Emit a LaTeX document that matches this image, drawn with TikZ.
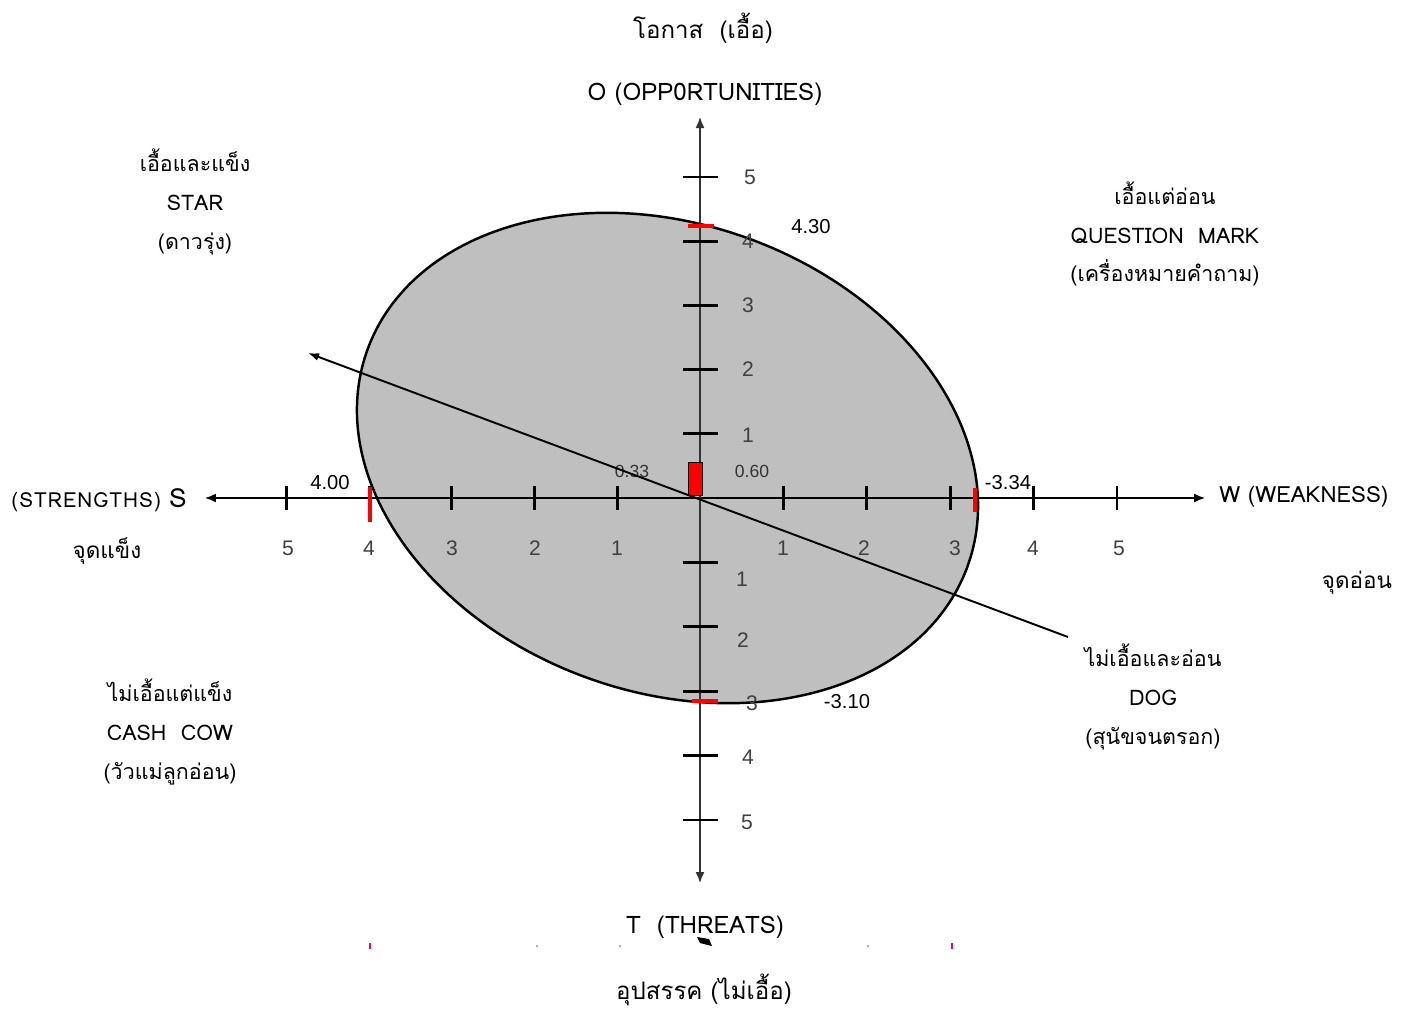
\documentclass[tikz,border=0pt]{standalone}
\usepackage{fontspec}
\setmainfont{Liberation Sans}
\newfontfamily\thaifont[Script=Thai]{Loma}
\usetikzlibrary{arrows.meta}

\begin{document}
\begin{tikzpicture}[x=0.02cm, y=-0.02cm,
    thailabel/.style={font=\thaifont\fontsize{12.2}{22}\selectfont, align=center, inner sep=0pt},
    axisname/.style={font=\thaifont\fontsize{13.7}{16}\selectfont, inner sep=0pt},
    ticklabel/.style={font=\fontsize{12}{14}\selectfont, text=black!75, inner sep=0pt},
    valuelabel/.style={font=\fontsize{11.5}{14}\selectfont, inner sep=0pt},
    tickmark/.style={line width=1.6pt},
    redmark/.style={red, line width=2.6pt},
    axisline/.style={{Latex[length=2.2mm,width=1.8mm]}-{Latex[length=2.2mm,width=1.8mm]}, line width=0.8pt}]

    \useasboundingbox (0,0) rectangle (1401,1011);

    % ellipse of the position
    \draw[fill=black!25, line width=1.4pt, rotate around={-19.7:(667.5,458)}]
        (667.5,458) ellipse [x radius=319, y radius=234];

    % axes
    \coordinate (origin) at (700,498);
    \coordinate (west) at (205,498);
    \coordinate (east) at (1205,498);
    \coordinate (north) at (700,117);
    \coordinate (south) at (700,883);
    \draw[axisline] (west) -- (east);
    \draw[axisline, black!80] (south) -- (north);

    % ticks on the horizontal axis
    \foreach \k in {1,...,5} {
        \draw[tickmark] ({700-82.7*\k},486) -- ++(0,24);
        \draw[tickmark] ({700+83.4*\k},486) -- ++(0,24);
    }
    % ticks on the vertical axis
    \foreach \k in {1,...,5} {
        \draw[tickmark] (683,{498-64.2*\k}) -- ++(35,0);
        \draw[tickmark] (683,{498+64.4*\k}) -- ++(35,0);
    }

    % tick labels
    \foreach \k/\lx in {5/288,4/369,3/452,2/535,1/617,1/783,2/864,3/955,4/1033,5/1119} {
        \node[ticklabel] at (\lx,548) {\k};
    }
    \foreach \k/\lx/\ly in {5/750/177,4/748/241,3/748/305,2/748/369,1/748/435,
                            1/742/579,2/743/640,3/752/703,4/748/757,5/747/822} {
        \node[ticklabel] at (\lx,\ly) {\k};
    }

    % red marks
    \draw[redmark] (370,487) -- (370,522);
    \draw[redmark] (975,488) -- (975,512);
    \draw[redmark] (688,226) -- (714,226);
    \draw[redmark] (692,701) -- (718,701);
    \draw[fill=red, line width=0.5pt] (688,462) rectangle (702,495);

    % values
    \node[valuelabel] (vs) at (330,483) {4.00};
    \node[valuelabel] (vw) at (1008,483) {-3.34};
    \node[valuelabel] (vo) at (811,227) {4.30};
    \node[valuelabel] (vt) at (847,702) {-3.10};
    \node[valuelabel, font=\fontsize{10}{12}\selectfont, text=black!80] (vx) at (632,471) {0.33};
    \node[valuelabel, font=\fontsize{10}{12}\selectfont, text=black!80] (vy) at (752,471) {0.60};

    % strategy line
    \coordinate (dogend) at (1068,637);
    \coordinate (startip) at (308,353);
    \draw[-{Latex[length=2.2mm,width=1.6mm]}, line width=1.1pt] (dogend) -- (startip);

    % axis names
    \node[axisname] (otitle) at (703,28) {โอกาส~~(เอื้อ)};
    \node[axisname] (oname) at (705,94) {O (OPP0RTUNITIES)};
    \node[axisname] (tname) at (705,927) {T~~(THREATS)};
    \node[axisname] (ttitle) at (704,990) {อุปสรรค (ไม่เอื้อ)};
    \node[axisname, anchor=east] (sname) at (187,500)
        {{\fontsize{11.8}{14}\selectfont\addfontfeatures{LetterSpace=5}(STRENGTHS)}~{\fontsize{15}{18}\selectfont S}};
    \node[axisname, font=\thaifont\fontsize{12.8}{15}\selectfont] (stitle) at (107,551) {จุดแข็ง};
    \node[axisname, anchor=west, font=\thaifont\fontsize{12.7}{15}\selectfont] (wname) at (1219,497) {W (WEAKNESS)};
    \node[axisname, font=\thaifont\fontsize{12.8}{15}\selectfont] (wtitle) at (1357,583) {จุดอ่อน};

    % quadrants
    \node[thailabel] (star) at (195,202) {เอื้อและแข็ง\\STAR\\(ดาวรุ่ง)};
    \node[thailabel] (qmark) at (1165,234) {เอื้อแต่อ่อน\\QUESTION~~MARK\\(เครื่องหมายคำถาม)};
    \node[thailabel] (dog) at (1153,697) {ไม่เอื้อและอ่อน\\DOG\\(สุนัขจนตรอก)};
    \node[thailabel] (cow) at (170,732) {ไม่เอื้อแต่แข็ง\\CASH~~COW\\(วัวแม่ลูกอ่อน)};

    % stray marks
    \draw[magenta, line width=1pt] (370,943) -- (370,949);
    \draw[magenta, line width=1pt] (952,943) -- (952,949);
    \fill (697,937) -- (709,939) -- (712,946) -- (700,943) -- cycle;
    \foreach \dx in {537,620,868} {
        \fill[black!50] (\dx,946) circle (1);
    }

\end{tikzpicture}
\end{document}
